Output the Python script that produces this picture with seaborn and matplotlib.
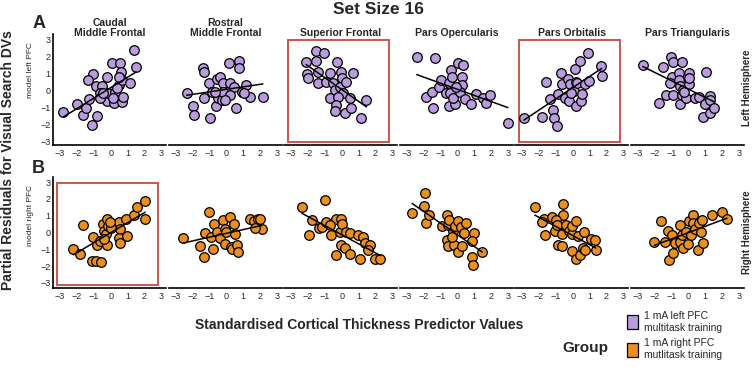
import pandas as pd
import seaborn as sns
from matplotlib import pyplot as plt
from matplotlib.patches import Patch, Rectangle

# panel layout: rows are hemisphere models, columns are cortical regions
regions = ['Caudal\nMiddle Frontal', 'Rostral\nMiddle Frontal', 'Superior Frontal',
           'Pars Opercularis', 'Pars Orbitalis', 'Pars Triangularis']
region_keys = ['caudal', 'rostral', 'superior', 'opercularis', 'orbitalis', 'triangularis']
hemispheres = ['left', 'right']
row_labels = ['model left PFC', 'model right PFC']
side_labels = ['Left Hemisphere', 'Right Hemisphere']
group_labels = ['1 mA left PFC\nmultitask training', '1 mA right PFC\nmutlitask training']
group_colors = ['#B99CDB', '#E98F1F']
highlighted = [('left', 'superior'), ('left', 'orbitalis'), ('right', 'caudal')]
ticks = [-3, -2, -1, 0, 1, 2, 3]

# --- left PFC group (top row) ---
left_caudal_x = [-2.80, -2.01, -1.61, -1.46, -1.12, -1.26, -0.78, -1.02, -1.32, -0.86, -0.52, -0.66,
                 -0.23, -0.33, -0.19, 0.07, 0.17, -0.13, 0.27, 0.13, 0.56, 0.62, 0.47, 0.66, 0.37,
                 0.66, 1.16, 1.36, 1.51, 0.72, -0.62, -0.43, 0.52]
left_caudal_y = [-1.29, -0.79, -1.43, -1.04, -2.05, -0.50, -1.49, 0.96, 0.61, 0.26, 0.26, -0.17,
                 0.77, -0.46, -0.65, 1.62, -0.75, -0.17, -0.07, -0.46, 1.58, 1.10, 0.32, 0.61, 0.13,
                 -0.71, 0.42, 2.36, 1.39, -0.36, -0.46, -0.17, 0.81]
left_rostral_x = [-2.34, -1.98, -1.90, -1.35, -1.31, -0.95, -1.31, -0.99, -0.85, -0.59, -0.55, -0.46,
                  -0.36, -0.26, -0.20, -0.16, 0.14, 0.24, 0.44, 0.24, 0.59, 0.79, 0.79, 0.93, 1.19,
                  1.39, 1.07, 2.18, -0.65, -0.06]
left_rostral_y = [-0.13, -0.90, -1.43, 1.29, 1.10, -1.62, -0.46, 0.42, -0.07, -0.94, 0.65, -0.46,
                  0.81, -0.55, 0.42, -0.07, 1.58, 0.42, 0.22, -0.26, -1.04, 1.74, 1.29, -0.07, 0.32,
                  -0.36, -0.13, -0.36, -0.07, -0.55]
left_superior_x = [-1.54, -1.07, -2.10, -1.50, -2.06, -2.00, -1.41, -1.41, -0.91, -0.67, -0.28, -0.51,
                   -0.42, -0.02, 0.04, -0.08, 0.28, 0.08, -0.71, -0.22, 0.67, 0.48, -0.32, -0.42,
                   0.18, 0.53, 1.47, 1.17]
left_superior_y = [2.32, 2.20, 1.68, 1.74, 0.96, 0.75, 1.10, 0.42, 0.51, 1.00, 1.66, 0.42,
                   0.03, 1.10, 0.71, 0.22, 0.51, -0.17, -0.46, -0.36, 1.04, -0.46, -0.84, -1.23,
                   -1.33, -1.04, -0.55, -1.62]
left_opercularis_x = [-2.40, -1.29, -1.84, -1.49, -1.45, -1.05, -0.95, -0.69, -0.46, -0.46, -0.42, -0.36,
                      -0.30, -0.10, -0.26, 0.04, 0.34, 0.30, 0.30, 0.14, 0.44, -0.06, 0.83, 1.13,
                      1.56, 1.72, 1.92, 3.01]
left_opercularis_y = [1.97, 1.87, -0.40, -0.07, -1.04, 0.22, 0.61, -0.17, 0.42, -0.94, -0.17, 1.19,
                      0.81, -0.79, -0.46, 1.58, 1.49, 0.81, 0.32, -0.07, -0.51, 0.22, -0.79, -0.20,
                      -0.46, -0.75, -0.26, -1.91]
left_orbitalis_x = [-2.89, -1.84, -1.60, -1.37, -1.17, -1.11, -0.91, -0.85, -0.71, -0.65, -0.46, -0.26,
                    -0.22, -0.18, 0.08, 0.18, 0.14, 0.28, 0.18, 0.48, 0.42, 0.53, 0.73, 0.93,
                    0.97, 1.66, 1.72, -0.12]
left_orbitalis_y = [-1.62, -1.56, 0.46, -0.51, -1.17, -1.62, -2.07, -0.20, 1.04, 0.38, -0.46, 0.65,
                    -0.65, 0.38, -0.01, 0.46, 1.23, 0.42, -0.90, -0.65, 1.74, -0.20, 0.38, 2.20,
                    0.57, 1.43, 0.84, -0.17]
left_triangularis_x = [-2.69, -1.50, -1.01, -0.87, -0.36, -1.70, -1.31, -0.95, -0.91, -1.07, -0.55, -0.55,
                       -0.51, -0.48, -0.36, -0.28, -0.12, 0.04, 0.08, 0.08, 0.38, 0.67, 0.97, 1.07,
                       1.27, 1.31, 0.91, 1.27, 1.56, -0.22]
left_triangularis_y = [1.49, 1.35, 1.97, 1.68, 1.68, -0.75, -0.26, 0.81, -0.26, 0.42, 1.04, 0.61,
                       0.26, -0.79, -0.26, 0.03, -0.46, 0.38, 1.04, 0.71, -0.46, -0.36, -0.79, 1.10,
                       -0.32, -0.59, -1.56, -1.33, -1.04, -0.07]

# --- right PFC group (bottom row) ---
right_caudal_x = [-2.21, -1.81, -1.65, -1.12, -0.86, -0.58, -1.02, -0.82, -0.62, -0.47, -0.39, -0.27,
                  -0.23, -0.19, -0.13, 0.47, 0.56, 0.52, 0.56, 0.96, 0.92, 1.36, 1.59, 2.05, 2.05,
                  -0.39, 0.05, -0.05]
right_caudal_y = [-1.00, -1.26, 0.47, -1.71, -1.71, -1.75, -0.27, -0.76, -0.52, 0.52, 0.07, -0.07,
                  -0.76, 0.82, 0.39, 0.62, 0.19, -0.33, -0.60, -0.21, 0.82, 1.02, 1.51, 1.85, 0.82,
                  -0.37, 0.25, 0.60]
right_rostral_x = [-2.53, -1.31, -1.54, -1.25, -0.99, -0.79, -0.91, -0.71, -0.55, -0.36, -0.20, -0.06,
                   -0.06, 0.00, 0.20, 0.28, 0.34, 0.44, 0.63, 0.73, 0.53, 1.39, 1.66, 1.86, 2.02,
                   2.12, 1.72]
right_rostral_y = [-0.33, -1.46, -0.80, -0.01, 1.22, -0.96, -0.27, 0.52, 0.03, -0.33, 0.72, -0.66,
                   0.23, 0.03, 0.92, -0.86, -0.96, 0.52, -0.72, -1.16, -0.07, 0.82, 0.66, 0.82, 0.78,
                   0.19, 0.27]
right_superior_x = [-2.36, -1.01, -1.94, -1.74, -1.35, -1.15, -0.95, -0.61, -0.32, -0.02, -0.12, 0.04,
                    -0.02, -0.32, 0.18, 0.28, 0.48, 0.51, 0.97, 1.27, 1.37, 1.70, 1.56, 1.07, 1.96,
                    2.30, -0.71]
right_superior_y = [1.51, 1.91, -0.17, 0.72, 0.27, 0.33, 0.62, -0.17, 0.82, 0.82, 0.03, 0.52,
                    -0.72, -1.32, -0.92, 0.03, -0.01, -1.26, -0.13, -0.27, -0.60, -0.72, -1.06, -1.59,
                    -1.59, -1.59, 0.47]
right_opercularis_x = [-2.67, -1.88, -1.94, -1.84, -1.64, -0.89, -0.61, -0.55, -0.46, -0.22, -0.10, 0.04,
                       0.24, 0.38, 0.53, 0.97, 0.89, -0.61, -0.55, -0.16, 0.04, 0.30, 0.89, 0.93,
                       1.49, -0.30]
right_opercularis_y = [1.18, 2.37, 1.57, 0.58, 1.06, 0.39, 1.06, 0.47, 0.72, 0.07, 0.39, 0.66,
                       0.33, -0.01, 0.58, -0.01, -0.52, -0.47, -0.80, -0.76, -1.16, -0.80, -1.46, -1.91,
                       -1.16, -0.27]
right_orbitalis_x = [-2.24, -0.57, -0.57, -1.70, -1.80, -1.64, -1.21, -1.05, -0.97, -0.91, -0.65, -0.85,
                     -0.61, -0.38, -0.22, -0.06, -0.02, 0.22, 0.34, 0.67, -0.06, 0.22, 0.42, 0.61,
                     0.73, 1.07, 1.33, 1.37]
right_orbitalis_y = [1.51, 1.71, 1.06, 0.82, 0.62, -0.13, 0.92, 0.07, 0.72, 0.43, -0.07, -0.72,
                     -0.80, 0.43, 0.07, -0.07, 0.39, 0.66, -0.21, 0.03, -1.12, -1.55, -1.32, -0.92,
                     -1.06, -0.37, -0.47, -1.06]
right_triangularis_x = [-2.00, -1.60, -1.35, -1.15, -0.87, -1.21, -0.95, -0.75, -0.51, -0.48, -0.36, -0.28,
                        -0.12, -0.02, 0.04, 0.18, 0.28, 0.28, 0.38, 0.57, 0.67, 0.77, 0.87, 0.83,
                        1.43, 2.02, 2.30]
right_triangularis_y = [-0.56, 0.66, -0.56, -1.65, -1.20, 0.07, -0.13, -0.60, 0.47, -0.56, -0.17, -0.92,
                        0.03, -0.66, 0.66, -0.17, 1.02, 0.58, 0.23, -1.06, 0.58, 0.03, -0.60, 0.72,
                        1.06, 1.22, 0.78]

# Build one long dataframe from the named lists
frames = []
for hemi in hemispheres:
    for key in region_keys:
        xs = globals()[f'{hemi}_{key}_x']
        ys = globals()[f'{hemi}_{key}_y']
        frames.append(pd.DataFrame({'hemisphere': hemi, 'region': key,
                                    'thickness': xs, 'residual': ys}))
df = pd.concat(frames, ignore_index=True)

sns.set_style('white')
plt.rcParams['font.family'] = ['Liberation Sans', 'DejaVu Sans']
plt.rcParams['axes.unicode_minus'] = True
narrow = ['Liberation Sans Narrow', 'Liberation Sans']

W, H = 755, 377
fig = plt.figure(figsize=(W / 100, H / 100), dpi=100)

# axes geometry in pixels
ax_w, ax_h, step = 113, 111, 115.5
row_bottom_px = {'left': 145, 'right': 288}
row_ylim = {'left': (-3.2, 3.3), 'right': (-3.3, 3.3)}

for r, hemi in enumerate(hemispheres):
    color = group_colors[r]
    for c, key in enumerate(region_keys):
        left = (53.3 + step * c) / W
        bottom = 1 - row_bottom_px[hemi] / H
        ax = fig.add_axes([left, bottom, ax_w / W, ax_h / H])
        sub = df[(df['hemisphere'] == hemi) & (df['region'] == key)]
        sns.regplot(data=sub, x='thickness', y='residual', ax=ax, ci=None, color=color,
                    scatter_kws=dict(s=48, edgecolor='black', linewidths=0.9, alpha=1, zorder=3),
                    line_kws=dict(color='black', lw=1.1, zorder=4))
        ax.set_xlabel('')
        ax.set_ylabel('')
        ax.set_xlim(-3.4, 3.3)
        ax.set_ylim(*row_ylim[hemi])
        ax.set_xticks(ticks)
        ax.set_yticks(ticks)
        ax.tick_params(axis='x', length=0, pad=3, labelsize=6.5)
        ax.tick_params(axis='y', length=0, pad=2, labelsize=6.5)
        for s in ['top', 'right']:
            ax.spines[s].set_visible(False)
        ax.spines['bottom'].set_color('black')
        ax.spines['bottom'].set_linewidth(1.2)
        if c == 0:
            ax.spines['left'].set_color('black')
            ax.spines['left'].set_linewidth(1.2)
        else:
            ax.spines['left'].set_visible(False)
            ax.set_yticklabels([])
        if r == 0:
            ax.text(0.5, 0.96, regions[c], transform=ax.transAxes, ha='center', va='bottom',
                    fontsize=7.5, fontweight='bold', linespacing=1.1)
        if (hemi, key) in highlighted:
            ax.add_patch(Rectangle((0.03, 0.03), 0.9, 0.92, transform=ax.transAxes, fill=False,
                                   edgecolor='#C9574A', lw=1.4, zorder=1))

# figure level annotations
fig.text(378 / W, 1 - 9 / H, 'Set Size 16', ha='center', va='center', fontsize=12.5, fontweight='bold')
fig.text(39 / W, 1 - 23 / H, 'A', ha='center', va='center', fontsize=13, fontweight='bold')
fig.text(38 / W, 1 - 168 / H, 'B', ha='center', va='center', fontsize=13, fontweight='bold')
fig.text(30 / W, 1 - 70 / H, row_labels[0], rotation=90, ha='center', va='center', fontsize=6)
fig.text(30 / W, 1 - 215 / H, row_labels[1], rotation=90, ha='center', va='center', fontsize=6)
fig.text(8 / W, 1 - 160 / H, 'Partial Residuals for Visual Search DVs', rotation=90,
         ha='center', va='center', fontsize=10, fontweight='bold')
fig.text(747 / W, 1 - 88 / H, side_labels[0], rotation=90, ha='center', va='center',
         fontsize=7, fontweight='bold')
fig.text(747 / W, 1 - 232 / H, side_labels[1], rotation=90, ha='center', va='center',
         fontsize=7, fontweight='bold')
fig.text(359 / W, 1 - 325 / H, 'Standardised Cortical Thickness Predictor Values',
         ha='center', va='center', fontsize=10, fontweight='bold', family=narrow)

# legend
fig.text(585 / W, 1 - 348 / H, 'Group', ha='center', va='center', fontsize=11, fontweight='bold',
         family=narrow)
handles = [Patch(facecolor=col, edgecolor='black', lw=0.9) for col in group_colors]
fig.legend(handles, group_labels, loc='upper left', bbox_to_anchor=(627 / W, 1 - 311 / H),
           frameon=False, handlelength=1.1, handleheight=1.7, labelspacing=0.55,
           handletextpad=0.5, borderpad=0, borderaxespad=0,
           prop={'family': narrow, 'size': 7.5})

fig.savefig('out.png', dpi=100)
